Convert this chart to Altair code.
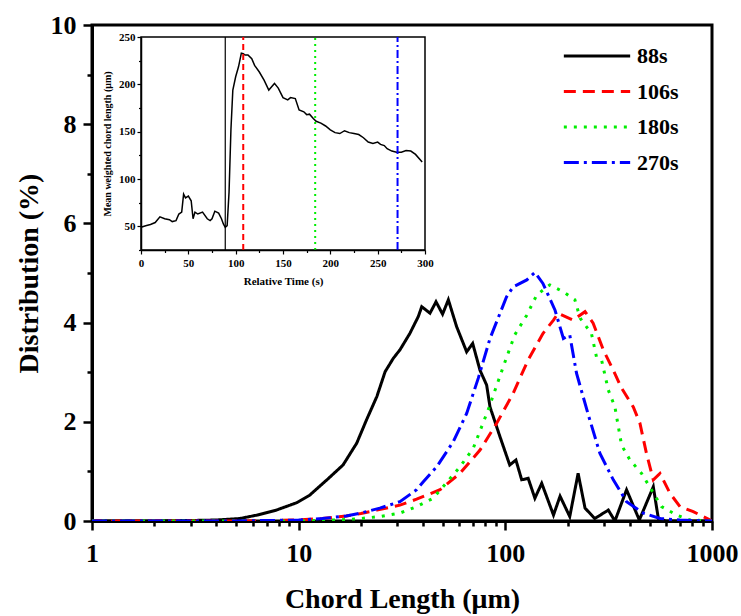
import altair as alt
import pandas as pd

# ---------------- main chart data ----------------
series_names = ["88s", "106s", "180s", "270s"]
series_colors = ["#000000", "#ff0000", "#00ee00", "#0000ff"]
series_dashes = [[1, 0], [12, 7], [3, 7], [15, 5, 3, 5]]

x_88 = [1, 2, 3, 4, 5.2, 6.3, 7.8, 9.8, 11.3, 13.7, 16.4, 19.1, 21.3, 23.9, 26.2, 28.7,
        30.9, 34.5, 37.9, 39.4, 43.2, 46.2, 49.7, 53, 58.1, 65, 69.5, 75.4, 81.2, 84.3,
        94.2, 105, 112.5, 120, 129, 139, 150, 171, 184, 205, 225, 243, 271, 315, 339,
        386, 445, 520, 550, 600, 1000]
y_88 = [0, 0, 0.01, 0.02, 0.05, 0.12, 0.22, 0.37, 0.52, 0.83, 1.13, 1.57, 2.04, 2.51, 3.01, 3.28,
        3.45, 3.78, 4.12, 4.32, 4.19, 4.42, 4.17, 4.46, 3.92, 3.41, 3.58, 3.04, 2.74, 2.30,
        1.70, 1.13, 1.23, 0.83, 0.86, 0.46, 0.76, 0.12, 0.50, 0.09, 0.96, 0.26, 0.05, 0.22, 0.0,
        0.63, 0.02, 0.69, 0.05, 0.0, 0.0]

x_106 = [1, 5, 10, 13, 17, 20, 23.9, 30.9, 37.2, 48.3, 60.3, 75.4, 90.8, 109, 129, 152, 171,
         180, 213, 243, 266, 298, 333, 365, 416, 448, 482, 520, 560, 626, 700, 811, 1000]
y_106 = [0, 0, 0.02, 0.05, 0.10, 0.15, 0.22, 0.32, 0.44, 0.63, 0.96, 1.43, 1.97, 2.57, 3.25, 3.78, 4.05,
         4.19, 4.05, 4.22, 3.99, 3.45, 3.04, 2.68, 2.30, 1.97, 1.36, 0.83, 0.96, 0.56, 0.29, 0.19, 0]

x_180 = [1, 10, 13, 17, 20, 24.7, 30.9, 37.2, 44.8, 60.3, 70, 82.6, 97.7, 111, 127, 142, 164,
         191, 217, 230, 261, 276, 292, 315, 339, 365, 401, 456, 570, 674, 782, 1000]
y_180 = [0, 0, 0.01, 0.03, 0.05, 0.09, 0.16, 0.29, 0.46, 1.09, 1.47, 2.24, 3.11, 3.75, 4.15, 4.56, 4.76,
         4.62, 4.46, 4.09, 3.78, 3.31, 3.25, 2.64, 2.30, 1.53, 1.23, 0.96, 0.29, 0.12, 0.02, 0]

x_270 = [1, 5, 10, 13, 17, 20, 24.7, 30.9, 37.2, 40.1, 46.5, 56, 65, 74, 84.3, 101.4, 109, 127,
         139, 152, 174, 191, 205, 221, 252, 287, 333, 386, 465, 560, 700, 1000]
y_270 = [0, 0, 0.02, 0.05, 0.10, 0.16, 0.26, 0.39, 0.63, 0.79, 1.09, 1.60, 2.17, 2.88, 3.68, 4.52, 4.72, 4.86,
         5.01, 4.79, 4.25, 3.68, 3.75, 2.98, 2.14, 1.36, 0.83, 0.39, 0.16, 0.05, 0.02, 0]

# ---------------- inset data ----------------
inset_t = [0, 5, 10, 15, 20, 25, 30, 33, 37, 40, 43, 45, 47, 50, 53, 55, 57, 60, 65, 70, 73, 75,
           78, 82, 85, 87, 89, 91, 93, 95, 97, 100, 103, 106, 108, 110, 113, 117, 120, 125, 130,
           135, 138, 141, 145, 150, 155, 158, 163, 167, 172, 175, 178, 182, 185, 190, 195, 200,
           205, 210, 215, 220, 225, 230, 235, 240, 245, 250, 253, 257, 260, 265, 270, 275, 280,
           285, 290, 297]
inset_v = [49, 50.7, 52, 54, 60, 58, 57, 55, 56, 63, 65, 84, 80, 82, 77, 58, 65, 63, 65, 58, 56, 58,
           66, 64, 58, 52.5, 49, 50.7, 86, 152, 194, 208, 218.5, 233, 232.5, 231, 231, 227, 220, 213,
           204.5, 194, 197.5, 201, 196, 186, 183.6, 186, 185, 173, 171, 168, 168.5, 164, 161, 159,
           156, 152, 149, 148, 151, 149, 148, 147, 143.6, 139, 137.5, 139, 136.5, 135.3, 132, 129.5,
           128.3, 128.3, 130, 129.5, 126, 118]

marker_times = [89, 108, 184, 271]
marker_colors = ["#000000", "#ff0000", "#00ee00", "#0000ff"]
marker_dashes = [[1, 0], [6, 4], [2, 4], [8, 3, 2, 3]]
marker_widths = [1.2, 2, 2, 2]

x_ticks_main = [1, 2, 3, 4, 5, 6, 7, 8, 9, 10, 20, 30, 40, 50, 60, 70, 80, 90,
                100, 200, 300, 400, 500, 600, 700, 800, 900, 1000]
y_ticks_main = [0, 1, 2, 3, 4, 5, 6, 7, 8, 9, 10]
inset_x_ticks = [0, 25, 50, 75, 100, 125, 150, 175, 200, 225, 250, 275, 300]
inset_y_ticks = [25, 50, 75, 100, 125, 150, 175, 200, 225, 250]

FONT = "Liberation Serif"

rows = []
for name, xs, ys in [("88s", x_88, y_88), ("106s", x_106, y_106),
                     ("180s", x_180, y_180), ("270s", x_270, y_270)]:
    for i, (a, b) in enumerate(zip(xs, ys)):
        rows.append({"x": a, "y": b, "series": name, "i": i})
df_main = pd.DataFrame(rows)

df_inset = pd.DataFrame({"t": inset_t, "v": inset_v})
df_frame = pd.DataFrame({"t": [0], "t2": [300], "v": [25], "v2": [250]})

W, H = 620, 496
INSET_X = [49, 333]
INSET_Y = [225, 12]

major_x_test = "datum.value == 1 || datum.value == 10 || datum.value == 100 || datum.value == 1000"

legend_kw = dict(orient="none", legendX=470, legendY=20,
                 title=None, symbolType="stroke", symbolSize=4400,
                 symbolStrokeWidth=3, labelFont=FONT, labelFontSize=22,
                 labelFontWeight="bold", labelColor="black",
                 labelOffset=5, rowPadding=13.5, padding=0, clipHeight=22)

main = alt.Chart(df_main).mark_line(strokeWidth=3, clip=True).encode(
    x=alt.X("x:Q",
            scale=alt.Scale(type="log", domain=[1, 1000], nice=False),
            axis=alt.Axis(values=x_ticks_main,
                          labelExpr="(" + major_x_test + ") ? format(datum.value, 'd') : ''",
                          tickSize={"condition": {"test": major_x_test, "value": 9}, "value": 5},
                          tickWidth=2.5, tickColor="black",
                          domainWidth=3, domainColor="black",
                          labelFont=FONT, labelFontSize=26, labelFontWeight="bold",
                          labelColor="black", labelPadding=10, labelFlush=False,
                          labelOverlap=False,
                          title="Chord Length (\u03bcm)", titleFont=FONT, titleFontSize=28,
                          titleFontWeight="bold", titleColor="black", titlePadding=19,
                          grid=False, orient="bottom")),
    y=alt.Y("y:Q",
            scale=alt.Scale(domain=[0, 10], nice=False),
            axis=alt.Axis(values=y_ticks_main,
                          labelExpr="datum.value % 2 == 0 ? datum.label : ''",
                          tickSize={"condition": {"test": "datum.value % 2 == 0", "value": 9}, "value": 5},
                          tickWidth=2.5, tickColor="black",
                          domainWidth=3, domainColor="black",
                          labelFont=FONT, labelFontSize=26, labelFontWeight="bold",
                          labelColor="black", labelPadding=7, labelOverlap=False,
                          title="Distribution (%)", titleFont=FONT, titleFontSize=28,
                          titleFontWeight="bold", titleColor="black", titlePadding=7,
                          grid=False, orient="left")),
    color=alt.Color("series:N",
                    scale=alt.Scale(domain=series_names, range=series_colors),
                    legend=alt.Legend(**legend_kw)),
    strokeDash=alt.StrokeDash("series:N",
                              scale=alt.Scale(domain=series_names, range=series_dashes),
                              legend=alt.Legend(**legend_kw)),
    order=alt.Order("i:Q"),
)

inset_x_axis = alt.Axis(values=inset_x_ticks, orient="bottom", offset=-(H - INSET_Y[0]),
                        labelExpr="datum.value % 50 == 0 ? datum.label : ''",
                        tickSize={"condition": {"test": "datum.value % 50 == 0", "value": 4}, "value": 2.5},
                        tickWidth=1.2, tickColor="black", domainWidth=1.5, domainColor="black",
                        labelFont=FONT, labelFontSize=11, labelFontWeight="bold", labelColor="black",
                        labelPadding=3, labelFlush=False, labelOverlap=False,
                        title="Relative Time (s)", titleFont=FONT, titleFontSize=11,
                        titleFontWeight="bold", titleColor="black", titlePadding=7,
                        grid=False, zindex=2)
inset_y_axis = alt.Axis(values=inset_y_ticks, orient="left", offset=-INSET_X[0],
                        labelExpr="datum.value % 50 == 0 ? datum.label : ''",
                        tickSize={"condition": {"test": "datum.value % 50 == 0", "value": 4}, "value": 2.5},
                        tickWidth=1.2, tickColor="black", domainWidth=1.5, domainColor="black",
                        labelFont=FONT, labelFontSize=11, labelFontWeight="bold", labelColor="black",
                        labelPadding=2, labelFlush=False, labelOverlap=False,
                        title="Mean weighted chord length (\u03bcm)", titleFont=FONT, titleFontSize=10,
                        titleFontWeight="bold", titleColor="black", titlePadding=6,
                        grid=False, zindex=2)

ix = alt.X("t:Q", scale=alt.Scale(domain=[0, 300], range=INSET_X, nice=False), axis=inset_x_axis)
iy = alt.Y("v:Q", scale=alt.Scale(domain=[25, 250], range=INSET_Y, nice=False), axis=inset_y_axis)

frame = alt.Chart(df_frame).mark_rect(fill="white", stroke="black", strokeWidth=1.5).encode(
    x=ix, x2="t2:Q", y=iy, y2="v2:Q")

inset_line = alt.Chart(df_inset).mark_line(color="black", strokeWidth=1.5).encode(x=ix, y=iy)

rule_layers = []
for t, c, d, w in zip(marker_times, marker_colors, marker_dashes, marker_widths):
    df_r = pd.DataFrame({"t": [t], "v": [25], "v2": [250]})
    rule_layers.append(
        alt.Chart(df_r).mark_rule(color=c, strokeDash=d, strokeWidth=w).encode(
            x=ix, y=iy, y2="v2:Q"))

inset = alt.layer(frame, inset_line, *rule_layers)

chart = alt.layer(main, inset).resolve_scale(
    x="independent", y="independent"
).properties(
    width=W, height=H,
    autosize=alt.AutoSizeParams(type="none"),
    padding={"left": 92, "top": 25, "right": 29, "bottom": 95},
    background="white",
).configure_view(stroke="black", strokeWidth=3)

chart.save("out.html", embed_options={"renderer": "svg", "actions": False})
